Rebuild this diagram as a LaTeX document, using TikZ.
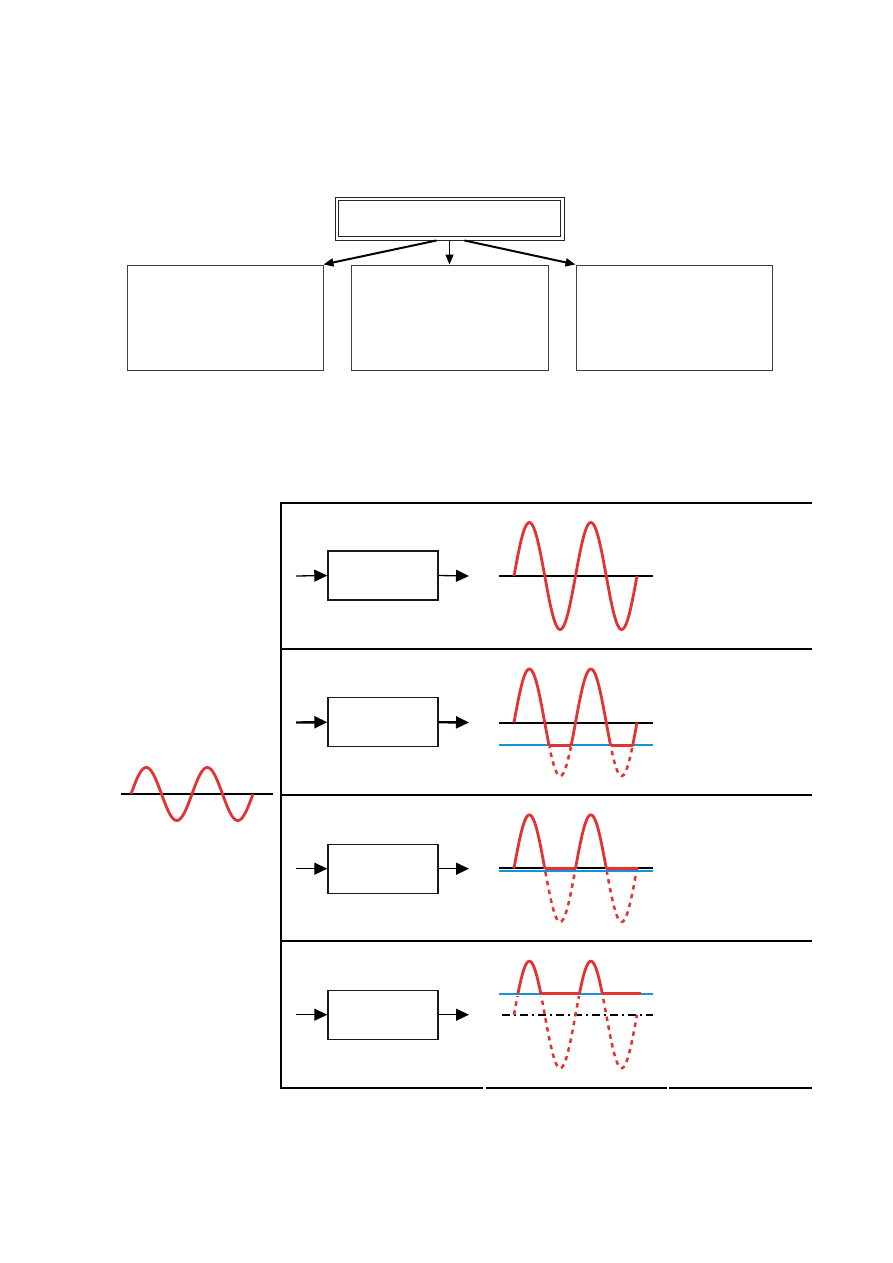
\documentclass[tikz,border=0pt]{standalone}
\usetikzlibrary{arrows.meta}
\definecolor{wred}{RGB}{228,50,48}
\definecolor{wblue}{RGB}{25,145,215}
\begin{document}
\begin{tikzpicture}[x=1pt,y=-1pt,
  topbox/.style={draw=black!75,line width=1pt,inner sep=0pt,minimum height=105pt},
  rowbox/.style={draw=black!90,line width=1.4pt,inner sep=0pt,minimum width=110pt,minimum height=49pt},
  toparrow/.style={line width=2pt,-{Triangle[length=10pt,width=8pt]}},
  rowarrow/.style={line width=1.3pt,-{Triangle[length=13pt,width=12pt]}},
  thickarrow/.style={line width=2.4pt,-{Triangle[length=13pt,width=12pt]}},
  wave/.style={wred,line width=2.8pt},
  dwave/.style={wred,line width=2.5pt,dash pattern=on 4.5pt off 4.5pt},
  axisline/.style={black,line width=2pt},
  blueline/.style={wblue,line width=2pt},
  tabline/.style={black,line width=1.3pt}]
\useasboundingbox (0,0) rectangle (893,1263);
\fill[white] (0,0) rectangle (893,1263);

% ---------- top hierarchy ----------
\node[draw=black!85,line width=1pt,inner sep=0pt,
      minimum width=229pt,minimum height=43pt] (top) at (449.5,218.5) {};
\draw[black!85,line width=1pt] ([shift={(4pt,-4pt)}]top.north west) rectangle ([shift={(-4pt,4pt)}]top.south east);
\node[topbox,minimum width=196pt] (L) at (225,317.5) {};
\node[topbox,minimum width=197pt] (M) at (449.5,317.5) {};
\node[topbox,minimum width=196pt] (R) at (674,317.5) {};
\draw[toparrow] ([xshift=-13pt]top.south) -- (L.north east);
\draw[line width=1.3pt,-{Triangle[length=10pt,width=8pt]}] (top.south) -- (M.north);
\draw[toparrow] ([xshift=15pt]top.south) -- (R.north west);

% ---------- table ----------
\draw[tabline] (281,503) -- (812,503);
\draw[tabline] (281,649) -- (812,649);
\draw[tabline] (281,795) -- (812,795);
\draw[tabline] (281,941) -- (812,941);
\draw[line width=2pt] (280,1088) -- (483,1088);
\draw[line width=2pt] (485.5,1088) -- (667,1088);
\draw[line width=2pt] (669,1088) -- (812,1088);
\draw[line width=2.4pt] (281,502) -- (281,1089);

% ---------- left input sine ----------
\draw[black,line width=1.3pt] (121,794) -- (273,794);
\draw[wave] plot[domain=131:253,samples=120,smooth] (\x,{794-26.5*sin((\x-131)*5.90164)});

% ---------- row 1 ----------
\node[rowbox] (b1) at (383,575.5) {};
\coordinate (i1) at (296,576);
\coordinate (o1) at (469,576);
\draw[rowarrow] (i1) -- (b1.west);
\draw[rowarrow] (b1.east) -- (o1);
\draw[axisline] (499,576) -- (653,576);
\draw[wave] plot[domain=514:637,samples=150,smooth] (\x,{576-53.5*sin((\x-514)*5.85366)});

% ---------- row 2 ----------
\node[rowbox] (b2) at (383,722.2) {};
\coordinate (i2) at (296,722.5);
\coordinate (o2) at (469,722.5);
\draw[thickarrow] (i2) -- (b2.west);
\draw[thickarrow] (b2.east) -- (o2);
\draw[axisline] (499,722.5) -- (653,722.5);
\draw[blueline] (499,745.3) -- (653,745.3);
\begin{scope}
  \clip (490,640) rectangle (660,745.3);
  \draw[wave] plot[domain=514:637,samples=150,smooth] (\x,{722.5-53.5*sin((\x-514)*5.85366)});
\end{scope}
\begin{scope}
  \clip (490,747) rectangle (660,790);
  \draw[dwave] plot[domain=514:637,samples=150,smooth] (\x,{722.5-53.5*sin((\x-514)*5.85366)});
\end{scope}
\draw[wave] (549.06,745.3) -- (571.2,745.3);
\draw[wave] (610.56,745.3) -- (632.7,745.3);

% ---------- row 3 ----------
\node[rowbox] (b3) at (383,868.7) {};
\coordinate (i3) at (296,868.7);
\coordinate (o3) at (469,868.7);
\draw[rowarrow] (i3) -- (b3.west);
\draw[rowarrow] (b3.east) -- (o3);
\draw[blueline] (499,870.6) -- (653,870.6);
\draw[axisline] (499,868.4) -- (653,868.4);
\begin{scope}
  \clip (490,800) rectangle (660,868.4);
  \draw[wave] plot[domain=514:637,samples=150,smooth] (\x,{868.4-53.5*sin((\x-514)*5.85366)});
\end{scope}
\begin{scope}
  \clip (490,872) rectangle (660,935);
  \draw[dwave] plot[domain=514:637,samples=150,smooth] (\x,{868.4-53.5*sin((\x-514)*5.85366)});
\end{scope}
\draw[wave] (544.75,868.4) -- (575.5,868.4);
\draw[wave] (606.25,868.4) -- (638,868.4);

% ---------- row 4 ----------
\node[rowbox] (b4) at (383,1014.7) {};
\coordinate (i4) at (296,1014.7);
\coordinate (o4) at (469,1014.7);
\draw[rowarrow] (i4) -- (b4.west);
\draw[rowarrow] (b4.east) -- (o4);
\draw[black,line width=1.8pt,dash pattern=on 8pt off 4pt on 2pt off 4pt] (502,1014.7) -- (653,1014.7);
\draw[blueline] (499,993.7) -- (653,993.7);
\begin{scope}
  \clip (490,945) rectangle (660,993.7);
  \draw[wave] plot[domain=514:637,samples=150,smooth] (\x,{1014.7-53.5*sin((\x-514)*5.85366)});
\end{scope}
\begin{scope}
  \clip (490,996) rectangle (660,1080);
  \draw[dwave] plot[domain=514:637,samples=150,smooth] (\x,{1014.7-53.5*sin((\x-514)*5.85366)});
\end{scope}
\draw[wave] (540.8,993.7) -- (579.45,993.7);
\draw[wave] (602.3,993.7) -- (640.7,993.7);
\end{tikzpicture}
\end{document}
